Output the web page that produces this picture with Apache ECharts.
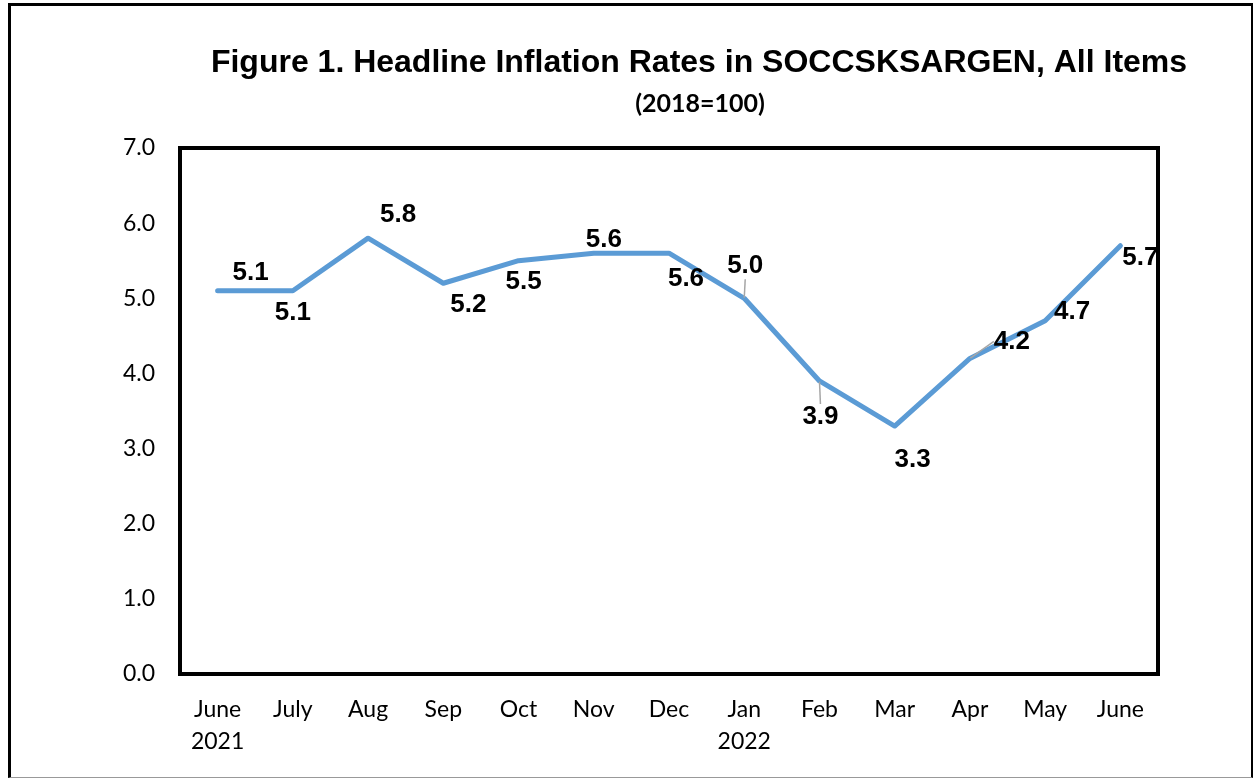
<!DOCTYPE html>
<html>
<head>
<meta charset="utf-8">
<script src="https://cdn.jsdelivr.net/npm/echarts@6/dist/echarts.min.js"></script>
<style>
html,body{margin:0;padding:0;background:#fff;}
#chart{position:absolute;left:0;top:0;width:1257px;height:778px;}
#frame{position:absolute;left:8px;top:3px;width:1240px;height:771px;border-left:3px solid #000;border-top:3px solid #000;border-right:2px solid #000;border-bottom:1px solid #999;pointer-events:none;}
</style>
</head>
<body>
<div id="chart"></div>
<div id="frame"></div>
<script>
const categories = ['June\n2021','July','Aug','Sep','Oct','Nov','Dec','Jan\n2022','Feb','Mar','Apr','May','June'];
const inflation = [5.1, 5.1, 5.8, 5.2, 5.5, 5.6, 5.6, 5.0, 3.9, 3.3, 4.2, 4.7, 5.7];
const yTicks = [0, 1, 2, 3, 4, 5, 6, 7];
// label offsets (style only)
const labelOffsets = [[33,-18],[0,22],[30,-23],[25,22],[5,21],[10,-13],[17,26],[1,-32],[1,36],[18,34],[42,-17],[27,-9],[20,12]];
const leaderIdx = [7, 8, 10];

const chart = echarts.init(document.getElementById('chart'), null, {renderer:'canvas'});
chart.setOption({
  animation:false,
  backgroundColor:'#fff',
  title:[
    {text:'Figure 1. Headline Inflation Rates in SOCCSKSARGEN, All Items', left:694, top:42, textAlign:'center',
     textStyle:{fontFamily:'Liberation Sans, Arial, sans-serif', fontWeight:'bold', fontSize:32, color:'#000'}},
    {text:'(2018=100)', left:695, top:86, textAlign:'center',
     textStyle:{fontFamily:'Lato, sans-serif', fontWeight:'bold', fontSize:25, color:'#000'}}
  ],
  grid:{left:180, right:99, top:148, bottom:104, show:true, borderColor:'#000', borderWidth:4, backgroundColor:'#fff'},
  xAxis:{
    type:'category', data:categories, boundaryGap:true,
    axisLine:{show:false}, axisTick:{show:false},
    axisLabel:{fontFamily:'Lato, sans-serif', fontSize:23, color:'#000', margin:20, lineHeight:32, verticalAlign:'top', interval:0}
  },
  yAxis:{
    type:'value', min:yTicks[0], max:yTicks[yTicks.length-1], interval:1,
    axisLine:{show:false}, axisTick:{show:false}, splitLine:{show:false},
    axisLabel:{fontFamily:'Lato, sans-serif', fontSize:23, color:'#000', margin:25, formatter:v=>v.toFixed(1)}
  },
  series:[{
    type:'line', data:inflation.map((v,i)=>({value:v, labelLine:{show:leaderIdx.includes(i)}})),
    symbol:'circle', symbolSize:1, showSymbol:true,
    lineStyle:{color:'#5B9BD5', width:5, cap:'round', join:'round'},
    itemStyle:{color:'#5B9BD5'},
    label:{show:true, position:'inside', formatter:p=>p.value.toFixed(1),
      fontFamily:'Liberation Sans, Arial, sans-serif', fontWeight:'bold', fontSize:26, color:'#000'},
    labelLine:{show:false, lineStyle:{color:'#A6A6A6', width:1.5}},
    labelLayout:function(p){const o=labelOffsets[p.dataIndex];return {dx:o[0], dy:o[1]};}
  }]
});
</script>
</body>
</html>
